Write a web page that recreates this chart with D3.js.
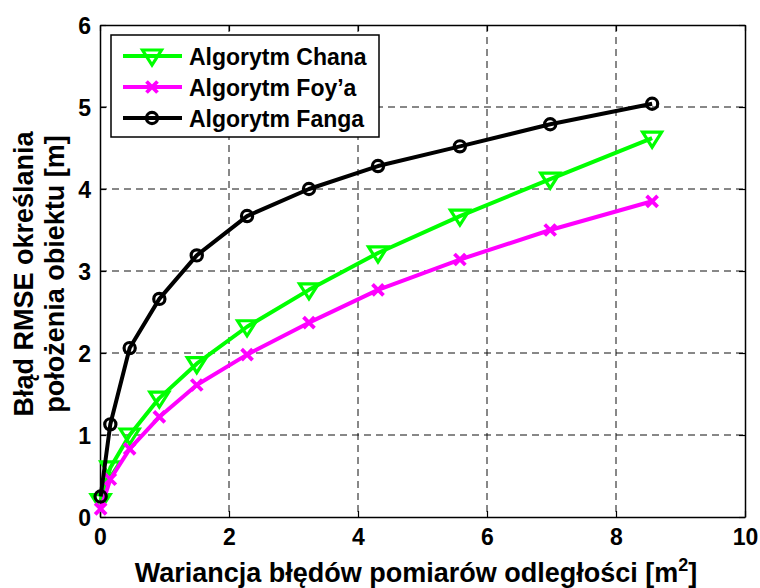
<!DOCTYPE html>
<html>
<head>
<meta charset="utf-8">
<script src="https://cdn.jsdelivr.net/npm/d3@7"></script>
<style>
  html, body { margin: 0; padding: 0; background: #fff; }
  text { font-family: "Liberation Sans", Arial, Helvetica, sans-serif; font-weight: bold; fill: #000; }
</style>
</head>
<body>
<svg id="chart" width="760" height="588"></svg>
<script>
// ---- data ----
const xValues = [0.01, 0.16, 0.46, 0.92, 1.5, 2.28, 3.24, 4.31, 5.58, 6.98, 8.56];
const chanValues = [0.2, 0.6, 1.0, 1.45, 1.87, 2.32, 2.77, 3.22, 3.67, 4.12, 4.62];
const foyValues = [0.1, 0.46, 0.83, 1.22, 1.61, 1.98, 2.37, 2.77, 3.14, 3.5, 3.85];
const fangValues = [0.25, 1.13, 2.06, 2.66, 3.19, 3.67, 4.0, 4.28, 4.52, 4.79, 5.04];
const seriesNames = ["Algorytm Chana", "Algorytm Foy\u2019a", "Algorytm Fanga"];
const xTicks = [0, 2, 4, 6, 8, 10];
const yTicks = [0, 1, 2, 3, 4, 5, 6];
const xTitle = "Wariancja b\u0142\u0119d\u00f3w pomiar\u00f3w odleg\u0142o\u015bci [m";
const yTitleLines = ["B\u0142\u0105d RMSE okre\u015blania", "po\u0142o\u017cenia obiektu [m]"];

const colors = ["#00ff00", "#ff00ff", "#000000"];
const markers = ["triangle", "cross", "circle"];
const allSeries = [chanValues, foyValues, fangValues];

const svg = d3.select("#chart");
const L = 100, R = 745, T = 25, B = 517;
const x = d3.scaleLinear().domain([0, 10]).range([L, R]);
const y = d3.scaleLinear().domain([0, 6]).range([B, T]);

// grid
const grid = svg.append("g");
xTicks.slice(1, -1).forEach(t => {
  grid.append("line").attr("x1", x(t)).attr("x2", x(t)).attr("y1", T).attr("y2", B)
    .attr("stroke", "#111").attr("stroke-width", 1).attr("stroke-dasharray", "7,5");
});
yTicks.slice(1, -1).forEach(t => {
  grid.append("line").attr("x1", L).attr("x2", R).attr("y1", y(t)).attr("y2", y(t))
    .attr("stroke", "#111").attr("stroke-width", 1).attr("stroke-dasharray", "7,5");
});

// axes (inward ticks on all four sides)
const tickLen = 6;
const fmt = d3.format("d");
const axB = svg.append("g").attr("transform", `translate(0,${B})`)
  .call(d3.axisBottom(x).tickValues(xTicks).tickFormat(fmt).tickSizeInner(-tickLen).tickSizeOuter(0).tickPadding(12));
const axT = svg.append("g").attr("transform", `translate(0,${T})`)
  .call(d3.axisTop(x).tickValues(xTicks).tickSizeInner(-tickLen).tickSizeOuter(0).tickFormat(""));
const axL = svg.append("g").attr("transform", `translate(${L},0)`)
  .call(d3.axisLeft(y).tickValues(yTicks).tickFormat(fmt).tickSizeInner(-tickLen).tickSizeOuter(0).tickPadding(9));
const axR = svg.append("g").attr("transform", `translate(${R},0)`)
  .call(d3.axisRight(y).tickValues(yTicks).tickSizeInner(-tickLen).tickSizeOuter(0).tickFormat(""));
[axB, axT, axL, axR].forEach(a => {
  a.select(".domain").attr("stroke", "#000").attr("stroke-width", 1.5);
  a.selectAll(".tick line").attr("stroke", "#000").attr("stroke-width", 1.2);
  a.selectAll(".tick text").attr("font-size", 23).style("font-family", "'Liberation Sans', Arial, sans-serif").style("font-weight", "bold").attr("fill", "#000");
});
axB.selectAll(".tick text").attr("dy", "0.71em");
axL.selectAll(".tick text").attr("dy", "0.36em");

// lines
const lineGen = d3.line().x(d => x(d[0])).y(d => y(d[1]));
function drawMarker(g, type, color, cx, cy) {
  if (type === "circle") {
    g.append("circle").attr("cx", cx).attr("cy", cy).attr("r", 5.6)
      .attr("fill", "none").attr("stroke", color).attr("stroke-width", 3.2);
  } else if (type === "triangle") {
    g.append("path").attr("d", `M${cx - 9.5},${cy - 6} L${cx + 9.5},${cy - 6} L${cx},${cy + 9} Z`)
      .attr("fill", "none").attr("stroke", color).attr("stroke-width", 3.2).attr("stroke-linejoin", "miter");
  } else {
    const s = 5.5;
    g.append("path").attr("d", `M${cx - s},${cy - s} L${cx + s},${cy + s} M${cx - s},${cy + s} L${cx + s},${cy - s}`)
      .attr("fill", "none").attr("stroke", color).attr("stroke-width", 3.8);
  }
}
allSeries.forEach((vals, i) => {
  const pts = xValues.map((xv, j) => [xv, vals[j]]);
  const g = svg.append("g");
  g.append("path").attr("d", lineGen(pts)).attr("fill", "none")
    .attr("stroke", colors[i]).attr("stroke-width", 4).attr("stroke-linejoin", "round");
  pts.forEach(p => drawMarker(g, markers[i], colors[i], x(p[0]), y(p[1])));
});

// legend
const lg = svg.append("g");
lg.append("rect").attr("x", 111).attr("y", 35).attr("width", 268).attr("height", 102)
  .attr("fill", "#fff").attr("stroke", "#000").attr("stroke-width", 1.5);
const rowY = [56, 87, 118];
seriesNames.forEach((name, i) => {
  lg.append("line").attr("x1", 123).attr("x2", 182).attr("y1", rowY[i]).attr("y2", rowY[i])
    .attr("stroke", colors[i]).attr("stroke-width", 4);
  drawMarker(lg, markers[i], colors[i], 152, rowY[i]);
  lg.append("text").attr("x", 189).attr("y", rowY[i] + 8.5).attr("font-size", 23).text(name);
});

// axis titles
const xt = svg.append("text").attr("x", 416).attr("y", 582).attr("text-anchor", "middle").attr("font-size", 27);
xt.append("tspan").text(xTitle);
xt.append("tspan").attr("font-size", 18).attr("dy", -11).text("2");
xt.append("tspan").attr("dy", 11).text("]");

const yt = svg.append("text").attr("transform", "translate(0,274) rotate(-90)").attr("text-anchor", "middle").attr("font-size", 27);
yt.append("tspan").attr("x", 0).attr("y", 33).text(yTitleLines[0]);
yt.append("tspan").attr("x", 0).attr("y", 64).text(yTitleLines[1]);
</script>
</body>
</html>
